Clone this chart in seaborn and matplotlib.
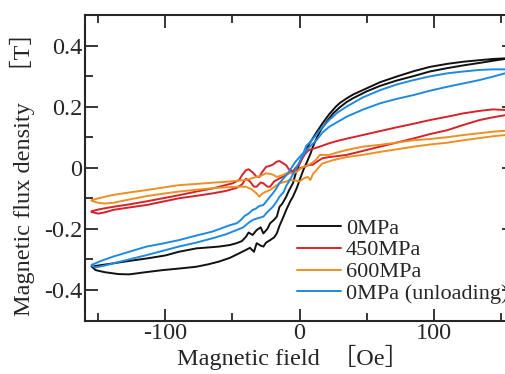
import numpy as np
import pandas as pd
import seaborn as sns
import matplotlib.pyplot as plt
from matplotlib.ticker import MultipleLocator, FuncFormatter

# 0MPa
black_up_x = [153, 144, 134, 122, 110, 97, 85, 72, 60, 47, 40, 35, 30, 27, 22, 17, 12, 7.5, 5, 2, 0,
              -3, -5, -8, -10, -13, -15, -17, -19, -22, -24, -27, -29, -32, -35, -38, -40, -43, -47,
              -52, -60, -77, -90, -100, -114, -127, -139, -150, -155]
black_up_y = [0.358, 0.356, 0.352, 0.347, 0.340, 0.330, 0.316, 0.298, 0.280, 0.254, 0.240, 0.227, 0.212,
              0.200, 0.175, 0.145, 0.112, 0.080, 0.060, 0.035, 0.015, -0.020, -0.051, -0.075, -0.095,
              -0.118, -0.128, -0.160, -0.170, -0.182, -0.200, -0.215, -0.195, -0.204, -0.220, -0.212,
              -0.226, -0.240, -0.247, -0.253, -0.258, -0.264, -0.275, -0.287, -0.297, -0.305, -0.313,
              -0.320, -0.323]
black_dn_x = [-155, -152, -145, -135, -127, -115, -102, -90, -77, -68, -60, -52, -45, -40, -37, -34, -32,
              -29, -27, -25, -22, -19, -17, -15, -12, -10, -7, -5, -2, 0, 3, 5, 8, 10, 13, 16, 20, 25,
              30, 35, 40, 50, 60, 72, 85, 97, 110, 122, 134, 144, 153]
black_dn_y = [-0.323, -0.335, -0.342, -0.348, -0.349, -0.342, -0.335, -0.330, -0.324, -0.316, -0.307,
              -0.295, -0.280, -0.269, -0.262, -0.275, -0.247, -0.255, -0.258, -0.245, -0.237, -0.228,
              -0.215, -0.190, -0.160, -0.138, -0.110, -0.095, -0.065, -0.040, -0.005, 0.014, 0.045,
              0.070, 0.100, 0.125, 0.150, 0.178, 0.198, 0.215, 0.228, 0.250, 0.268, 0.285, 0.300,
              0.315, 0.326, 0.335, 0.343, 0.350, 0.356]

# 450MPa
red_up_x = [153, 144, 134, 122, 110, 97, 85, 72, 60, 47, 38, 30, 22, 15, 10, 7, 4, 2, 0, -3, -5, -8,
            -10, -12, -15, -17, -20, -23, -25, -28, -30, -32, -35, -38, -40, -43, -45, -50, -58, -65,
            -77, -90, -102, -114, -127, -139, -148, -155]
red_up_y = [0.189, 0.191, 0.186, 0.178, 0.167, 0.156, 0.144, 0.132, 0.120, 0.107, 0.098, 0.090, 0.080,
            0.069, 0.062, 0.058, 0.045, 0.030, 0.012, 0.000, -0.012, -0.005, 0.008, 0.014, 0.022,
            0.020, 0.010, 0.005, 0.003, -0.015, -0.030, -0.030, -0.015, -0.005, -0.008, -0.025,
            -0.040, -0.051, -0.060, -0.068, -0.078, -0.090, -0.100, -0.110, -0.120, -0.128, -0.135,
            -0.142]
red_dn_x = [-155, -150, -145, -139, -127, -114, -102, -90, -77, -65, -55, -47, -43, -40, -37, -34, -32,
            -29, -27, -24, -22, -19, -15, -12, -8, -4, 0, 4, 7, 10, 13, 17, 22, 28, 35, 47, 60, 72, 85,
            97, 110, 122, 134, 144, 153]
red_dn_y = [-0.145, -0.150, -0.146, -0.138, -0.130, -0.122, -0.111, -0.100, -0.092, -0.084, -0.076,
            -0.066, -0.055, -0.036, -0.045, -0.062, -0.062, -0.048, -0.051, -0.062, -0.062, -0.045,
            -0.035, -0.028, -0.018, -0.010, -0.002, 0.004, 0.009, 0.010, 0.020, 0.031, 0.035, 0.038,
            0.042, 0.055, 0.069, 0.082, 0.096, 0.110, 0.123, 0.140, 0.156, 0.165, 0.172]

# 600MPa
orange_up_x = [153, 144, 134, 122, 110, 97, 85, 72, 60, 47, 35, 28, 22, 15, 12, 9, 6, 3, 0, -2.5, -6,
               -10, -13, -17, -20, -25, -28, -32, -36, -40, -45, -52, -65, -77, -90, -102, -114, -127,
               -139, -148, -155]
orange_up_y = [0.121, 0.118, 0.113, 0.107, 0.100, 0.094, 0.090, 0.082, 0.075, 0.069, 0.058, 0.050,
               0.042, 0.042, 0.025, 0.015, 0.008, 0.003, -0.005, -0.015, -0.018, -0.018, -0.025,
               -0.030, -0.022, -0.018, -0.025, -0.030, -0.035, -0.040, -0.042, -0.045, -0.049,
               -0.053, -0.057, -0.065, -0.073, -0.081, -0.089, -0.098, -0.106]
orange_dn_x = [-155, -150, -145, -139, -127, -114, -102, -90, -77, -65, -55, -45, -40, -36, -32, -30,
               -28, -25, -22, -18, -15, -10, -7, -3, 0, 3, 6, 8, 10, 12.5, 15, 17, 20, 25, 35, 47, 60,
               72, 85, 97, 110, 122, 134, 144, 153]
orange_dn_y = [-0.108, -0.115, -0.117, -0.115, -0.104, -0.093, -0.085, -0.078, -0.072, -0.067, -0.064,
               -0.062, -0.062, -0.070, -0.084, -0.095, -0.085, -0.078, -0.073, -0.060, -0.051, -0.045,
               -0.040, -0.042, -0.045, -0.035, -0.030, -0.040, -0.020, -0.008, 0.005, 0.014, 0.018,
               0.025, 0.035, 0.042, 0.052, 0.060, 0.069, 0.076, 0.082, 0.090, 0.097, 0.103, 0.107]

# 0MPa (unloading)
blue_up_x = [153, 144, 134, 122, 110, 97, 85, 72, 60, 47, 35, 28, 22, 15, 10, 7, 5, 3, 0, -3, -6, -9,
             -12, -15, -18, -20, -23, -27, -30, -33, -35, -38, -41, -44, -47, -52, -65, -77, -90, -102,
             -114, -127, -139, -148, -155]
blue_up_y = [0.322, 0.322, 0.320, 0.315, 0.309, 0.299, 0.287, 0.272, 0.254, 0.230, 0.200, 0.180, 0.156,
             0.123, 0.095, 0.080, 0.072, 0.050, 0.035, 0.020, 0.000, -0.020, -0.035, -0.050, -0.072,
             -0.084, -0.100, -0.122, -0.125, -0.135, -0.138, -0.150, -0.158, -0.172, -0.182, -0.188,
             -0.209, -0.222, -0.237, -0.248, -0.258, -0.275, -0.291, -0.305, -0.318]
blue_dn_x = [-155, -152, -145, -139, -127, -114, -102, -90, -77, -65, -55, -47, -42, -38, -35, -31, -27,
             -24, -20, -17, -15, -12, -10, -6, -3, 0, 3, 6, 9, 12.5, 17, 22, 35, 47, 60, 72, 85, 97,
             110, 122, 134, 144, 153]
blue_dn_y = [-0.320, -0.326, -0.320, -0.313, -0.300, -0.286, -0.272, -0.258, -0.245, -0.231, -0.218,
             -0.204, -0.195, -0.180, -0.171, -0.165, -0.160, -0.145, -0.128, -0.110, -0.095, -0.080,
             -0.060, -0.030, -0.005, 0.020, 0.045, 0.062, 0.075, 0.090, 0.115, 0.134, 0.167, 0.190,
             0.211, 0.225, 0.238, 0.252, 0.265, 0.276, 0.287, 0.298, 0.309]

labels = ["0MPa", "450MPa", "600MPa", "0MPa (unloading)"]
colors = ["#111111", "#d6222a", "#ef8f22", "#1f8ae0"]

loops = [
    (black_up_x + black_dn_x, black_up_y + black_dn_y),
    (red_up_x + red_dn_x, red_up_y + red_dn_y),
    (orange_up_x + orange_dn_x, orange_up_y + orange_dn_y),
    (blue_up_x + blue_dn_x, blue_up_y + blue_dn_y),
]
frames = []
for lab, (xs, ys) in zip(labels, loops):
    frames.append(pd.DataFrame({"H": xs, "B": ys, "series": lab}))
df = pd.concat(frames, ignore_index=True)

sns.set_style("ticks")
plt.rcParams["font.family"] = ["Liberation Serif", "Noto Sans CJK JP"]
plt.rcParams["font.size"] = 16

fig = plt.figure(figsize=(5.05, 3.74), dpi=100)
ax = fig.add_axes([0.168, 0.143, 0.8506, 0.817])

sns.lineplot(data=df, x="H", y="B", hue="series", hue_order=labels,
             palette=colors, sort=False, estimator=None, linewidth=1.4, ax=ax)

ax.set_xlim(-160, 160)
ax.set_ylim(-0.5, 0.5)
ax.xaxis.set_major_locator(MultipleLocator(100))
ax.xaxis.set_minor_locator(MultipleLocator(50))
ax.yaxis.set_major_locator(MultipleLocator(0.2))
ax.yaxis.set_minor_locator(MultipleLocator(0.1))
ax.xaxis.set_major_formatter(FuncFormatter(lambda v, p: "%d" % round(v)))
ax.yaxis.set_major_formatter(FuncFormatter(lambda v, p: "0" if abs(v) < 1e-9 else "%.1f" % v))
ax.tick_params(which="both", direction="in", top=True, right=True, width=1.3, labelsize=17.5)
ax.tick_params(which="major", length=9, pad=2)
ax.tick_params(which="minor", length=6)
for s in ax.spines.values():
    s.set_linewidth(1.5)

ax.set_xlabel("Magnetic field  ［Oe］", fontsize=17.5)
ax.set_ylabel("Magnetic flux density   ［T］", fontsize=17.5)
ax.xaxis.set_label_coords(0.484, -0.078)
ax.yaxis.set_label_coords(-0.116, 0.50)

ax.legend(loc="upper left", bbox_to_anchor=(0.588, 0.417), bbox_transform=fig.transFigure,
          frameon=False, fontsize=16, handlelength=2.0, handletextpad=0.2,
          labelspacing=0.06, borderpad=0, borderaxespad=0)

fig.savefig("out.png", dpi=100)
